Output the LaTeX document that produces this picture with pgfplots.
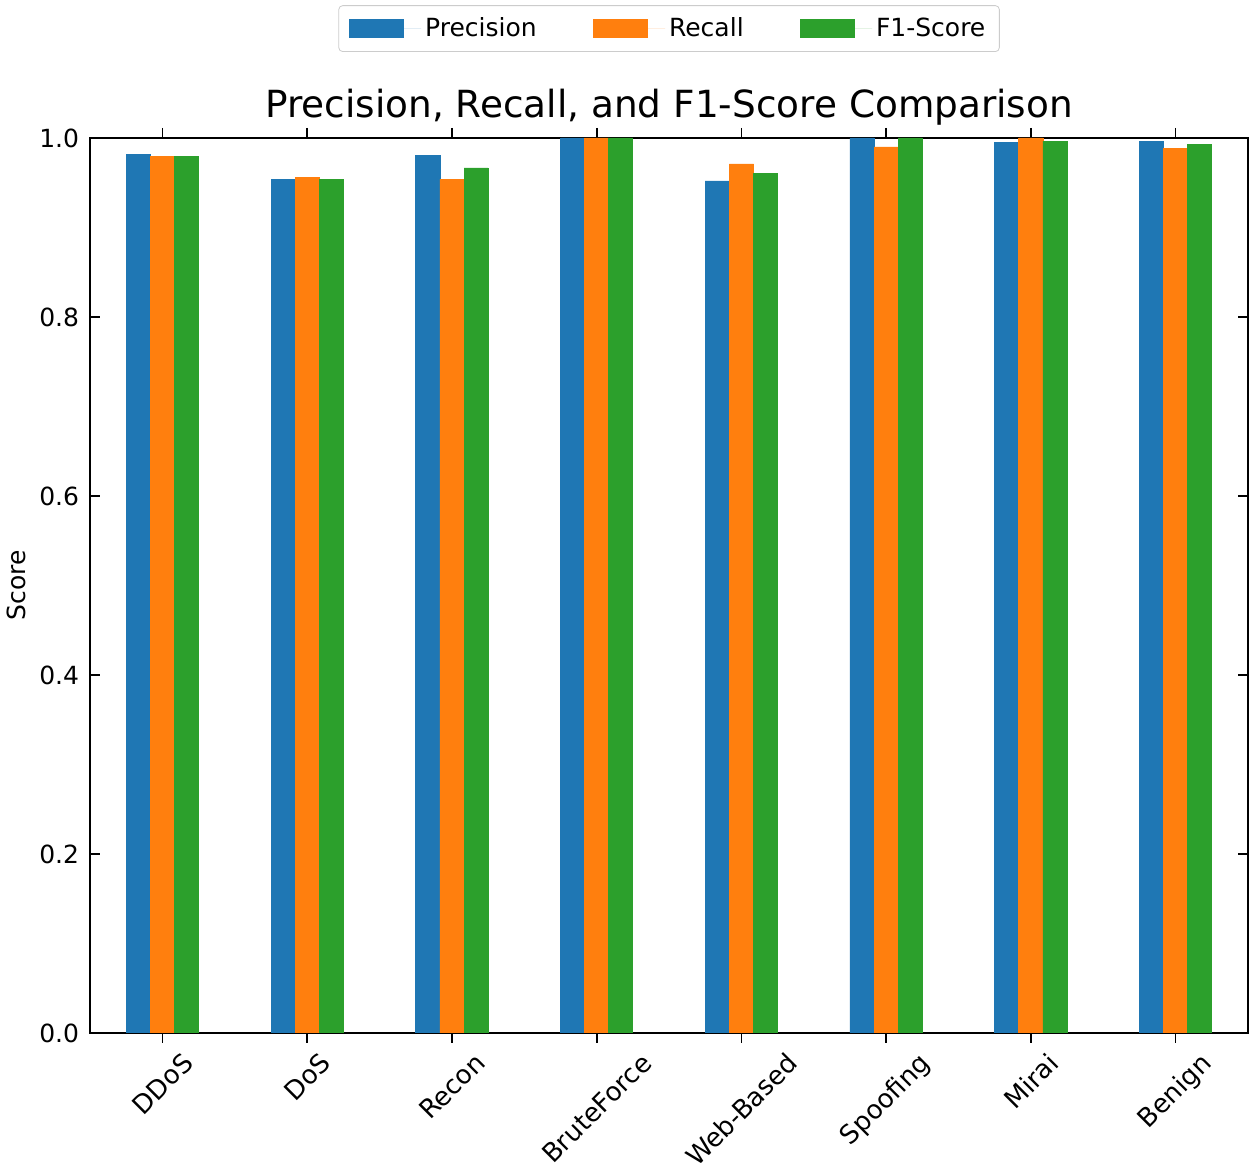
\documentclass[border=0pt]{standalone}
\usepackage{fontspec}
\setmainfont{DejaVu Sans}
\usepackage{pgfplots}
\pgfplotsset{compat=1.18}
\definecolor{tabblue}{HTML}{1F77B4}
\definecolor{taborange}{HTML}{FF7F0E}
\definecolor{tabgreen}{HTML}{2CA02C}
\begin{document}
\begin{tikzpicture}
\begin{axis}[
    name=ax,
    width=579pt, height=447.5pt,
    scale only axis,
    xmin=-0.5, xmax=7.5,
    ymin=0, ymax=1.0,
    xtick={0,1,2,3,4,5,6,7},
    xticklabels={\rotatebox{45}{DDoS},\rotatebox{45}{DoS},\rotatebox{45}{Recon},\rotatebox{45}{BruteForce},\rotatebox{45}{Web-Based},\rotatebox{45}{Spoofing},\rotatebox{45}{Mirai},\rotatebox{45}{Benign}},
    xticklabel style={anchor=north, inner sep=1pt, yshift=-3pt, font=\fontsize{13}{15}\selectfont},
    ytick={0,0.2,0.4,0.6,0.8,1.0},
    yticklabel style={xshift=-2pt, /pgf/number format/fixed, /pgf/number format/fixed zerofill, /pgf/number format/precision=1},
    /pgf/number format/assume math mode=true,
    tick align=inside,
    xtick pos=both, ytick pos=both,
    major tick length=5pt,
    tick style={black, line width=0.8pt},
    axis line style={line width=1pt},
    font=\fontsize{12.5}{15}\selectfont,
    ylabel={Score},
    ylabel style={yshift=0pt},
    title={Precision, Recall, and F1-Score Comparison},
    title style={font=\fontsize{18.7}{22}\selectfont, yshift=-3pt},
    legend style={at={(0.5,1)}, anchor=south, yshift=43pt, draw=black!20, rounded corners=2pt,
        legend columns=3, font=\fontsize{12.5}{15}\selectfont,
        /tikz/every even column/.append style={column sep=26pt}, inner xsep=5pt, inner ysep=4pt},
    legend cell align=left,
    ybar, bar width=0.1667,
    area legend,
    legend image code/.code={\fill[#1, sharp corners] (-3pt,-4.5pt) rectangle (24pt,4.5pt); \path[draw=none] (0pt,0pt) -- (33pt,0pt);},
]
\addplot[fill=tabblue, draw=tabblue, bar shift=-0.1667] coordinates {
    (0,0.982) (1,0.954) (2,0.980) (3,1.000) (4,0.952) (5,1.000) (6,0.995) (7,0.9965)
};
\addplot[fill=taborange, draw=taborange, bar shift=0] coordinates {
    (0,0.979) (1,0.956) (2,0.954) (3,1.000) (4,0.971) (5,0.990) (6,1.000) (7,0.988)
};
\addplot[fill=tabgreen, draw=tabgreen, bar shift=0.1667] coordinates {
    (0,0.979) (1,0.954) (2,0.9665) (3,1.000) (4,0.9605) (5,1.000) (6,0.9965) (7,0.9925)
};
\legend{Precision, Recall, F1-Score}
\end{axis}
\path (ax.south west) ++(-45pt,-66pt) rectangle ([shift={(3.5pt,69pt)}]ax.north east);
\end{tikzpicture}
\end{document}
